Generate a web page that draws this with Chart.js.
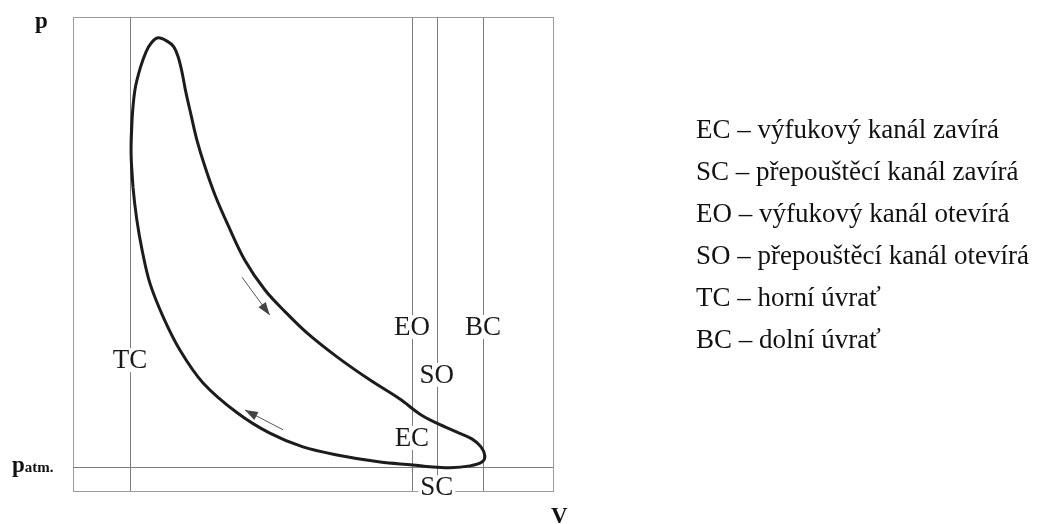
<!DOCTYPE html>
<html>
<head>
<meta charset="utf-8">
<script src="https://cdn.jsdelivr.net/npm/chart.js@4.4.1/dist/chart.umd.min.js"></script>
<style>
    html, body { margin: 0; padding: 0; background: #fff; }
    #wrap { position: relative; width: 1059px; height: 524px; overflow: hidden; }
    #chart { position: absolute; left: 0; top: 0; }
    #legend {
        position: absolute;
        left: 696px;
        top: 108px;
        font-family: "Liberation Serif", "Times New Roman", serif;
        font-size: 27px;
        line-height: 42px;
        color: #111;
    }
    #legend div { white-space: nowrap; }
</style>
</head>
<body>
<div id="wrap">
    <canvas id="chart" width="1059" height="524"></canvas>
    <div id="legend"></div>
</div>
<script>
// p-V loop of a two-stroke engine (arbitrary units, 0..100 on both axes)
const loopV = [12.1, 12.3, 12.9, 14.0, 15.2, 16.3, 17.7, 19.6, 21.0, 21.9, 22.7, 23.5, 24.6, 25.8, 27.5,
    29.6, 32.3, 35.8, 40.0, 44.2, 48.8, 55.0, 61.9, 68.1, 72.3, 75.8, 80.0, 83.1, 85.0, 85.8,
    85.2, 82.7, 78.5, 74.4, 70.8, 64.0, 55.0, 47.9, 41.0, 34.2, 27.1, 22.3, 18.8, 16.0, 14.4,
    13.3, 12.5, 12.1];
const loopP = [71.3, 78.3, 84.6, 89.2, 92.6, 94.5, 95.6, 94.9, 93.7, 91.6, 88.4, 84.2, 79.3, 74.1, 68.4,
    62.4, 56.1, 48.7, 42.4, 37.8, 33.3, 28.3, 23.4, 19.4, 16.2, 14.3, 12.4, 11.0, 9.3, 7.4,
    6.1, 5.3, 4.9, 5.1, 5.5, 6.1, 7.6, 9.3, 12.2, 16.5, 22.8, 29.7, 36.7, 43.9, 50.8,
    57.2, 64.1, 71.3];

// volume marks: top dead centre, exhaust open, scavenge open, bottom dead centre
const markerNames = ['TC', 'EO', 'SO', 'BC'];
const markerV = [11.9, 70.6, 75.8, 85.4];
const patmP = 5.1;

// flow direction arrows
const arrowFromV = [35.2, 43.8];
const arrowFromP = [45.1, 12.9];
const arrowToV = [41.0, 35.8];
const arrowToP = [37.1, 17.1];

const legendCodes = ['EC', 'SC', 'EO', 'SO', 'TC', 'BC'];
const legendTexts = [
    'výfukový kanál zavírá',
    'přepouštěcí kanál zavírá',
    'výfukový kanál otevírá',
    'přepouštěcí kanál otevírá',
    'horní úvrať',
    'dolní úvrať'
];

const serif = '"Liberation Serif", "Times New Roman", serif';

// label placement on the marker lines (which line, at what pressure level)
const labelSpots = [
    { text: 'TC', line: 0, p: 27.6 },
    { text: 'EO', line: 1, p: 34.6 },
    { text: 'BC', line: 3, p: 34.6 },
    { text: 'SO', line: 2, p: 24.5 },
    { text: 'EC', line: 1, p: 11.2 },
    { text: 'SC', line: 2, p: 0.8 }
];

// closed loop: wrap one point on each side so the spline has no corner at the seam
function loopPoints() {
    const pts = loopV.map((v, i) => ({ x: v, y: loopP[i] }));
    const n = pts.length;
    return [pts[n - 2], ...pts, pts[1]];
}

const pvDecor = {
    id: 'pvDecor',
    beforeDatasetsDraw(chart) {
        const { ctx, chartArea: a, scales: { x, y } } = chart;
        ctx.save();

        // frame
        ctx.strokeStyle = '#9c9c9c';
        ctx.lineWidth = 1;
        ctx.strokeRect(a.left + 0.5, a.top + 0.5, a.right - a.left, a.bottom - a.top);

        // marker lines
        ctx.strokeStyle = '#7c7c7c';
        markerV.forEach(v => {
            const px = Math.round(x.getPixelForValue(v)) + 0.5;
            ctx.beginPath();
            ctx.moveTo(px, a.top);
            ctx.lineTo(px, a.bottom);
            ctx.stroke();
        });

        // atmospheric pressure line
        const py = Math.round(y.getPixelForValue(patmP)) + 0.5;
        ctx.beginPath();
        ctx.moveTo(a.left, py);
        ctx.lineTo(a.right, py);
        ctx.stroke();

        // labels with white background, cutting the lines
        ctx.font = '27px ' + serif;
        ctx.textAlign = 'center';
        ctx.textBaseline = 'middle';
        labelSpots.forEach(s => {
            const cx = x.getPixelForValue(markerV[s.line]);
            const cy = y.getPixelForValue(s.p);
            const w = ctx.measureText(s.text).width;
            ctx.fillStyle = '#fff';
            ctx.fillRect(cx - w / 2 - 2, cy - 12, w + 4, 24);
            ctx.fillStyle = '#1a1a1a';
            ctx.fillText(s.text, cx, cy + 1);
        });

        // axis titles
        ctx.fillStyle = '#111';
        ctx.textAlign = 'left';
        ctx.textBaseline = 'alphabetic';
        ctx.font = 'bold 23px ' + serif;
        ctx.fillText('p', a.left - 38, a.top + 11);
        ctx.fillText('V', a.right - 2, a.bottom + 32);

        const pw = ctx.measureText('p').width;
        const base = py + 4;
        ctx.fillText('p', a.left - 61, base);
        ctx.font = 'bold 15px ' + serif;
        ctx.fillText('atm.', a.left - 61 + pw, base);

        ctx.restore();
    },
    afterDatasetsDraw(chart) {
        const { ctx, scales: { x, y } } = chart;
        ctx.save();
        ctx.strokeStyle = '#555';
        ctx.fillStyle = '#444';
        ctx.lineWidth = 1;
        arrowFromV.forEach((v, i) => {
            const x0 = x.getPixelForValue(v), y0 = y.getPixelForValue(arrowFromP[i]);
            const x1 = x.getPixelForValue(arrowToV[i]), y1 = y.getPixelForValue(arrowToP[i]);
            const ang = Math.atan2(y1 - y0, x1 - x0);
            ctx.beginPath();
            ctx.moveTo(x0, y0);
            ctx.lineTo(x1, y1);
            ctx.stroke();
            ctx.beginPath();
            ctx.moveTo(x1, y1);
            ctx.lineTo(x1 - 13 * Math.cos(ang) + 4.5 * Math.sin(ang), y1 - 13 * Math.sin(ang) - 4.5 * Math.cos(ang));
            ctx.lineTo(x1 - 13 * Math.cos(ang) - 4.5 * Math.sin(ang), y1 - 13 * Math.sin(ang) + 4.5 * Math.cos(ang));
            ctx.closePath();
            ctx.fill();
        });
        ctx.restore();
    }
};

new Chart(document.getElementById('chart'), {
    type: 'scatter',
    data: {
        datasets: [{
            data: loopPoints(),
            showLine: true,
            borderColor: '#1c1c1c',
            borderWidth: 3,
            pointRadius: 0,
            tension: 0.35,
            fill: false
        }]
    },
    options: {
        responsive: false,
        devicePixelRatio: 1,
        animation: false,
        layout: { padding: { left: 73, top: 17, right: 506, bottom: 33 } },
        scales: {
            x: { type: 'linear', min: 0, max: 100, display: false },
            y: { type: 'linear', min: 0, max: 100, display: false }
        },
        plugins: {
            legend: { display: false },
            tooltip: { enabled: false }
        }
    },
    plugins: [pvDecor]
});

const legendEl = document.getElementById('legend');
legendCodes.forEach((code, i) => {
    const row = document.createElement('div');
    row.textContent = code + ' – ' + legendTexts[i];
    legendEl.appendChild(row);
});
</script>
</body>
</html>
